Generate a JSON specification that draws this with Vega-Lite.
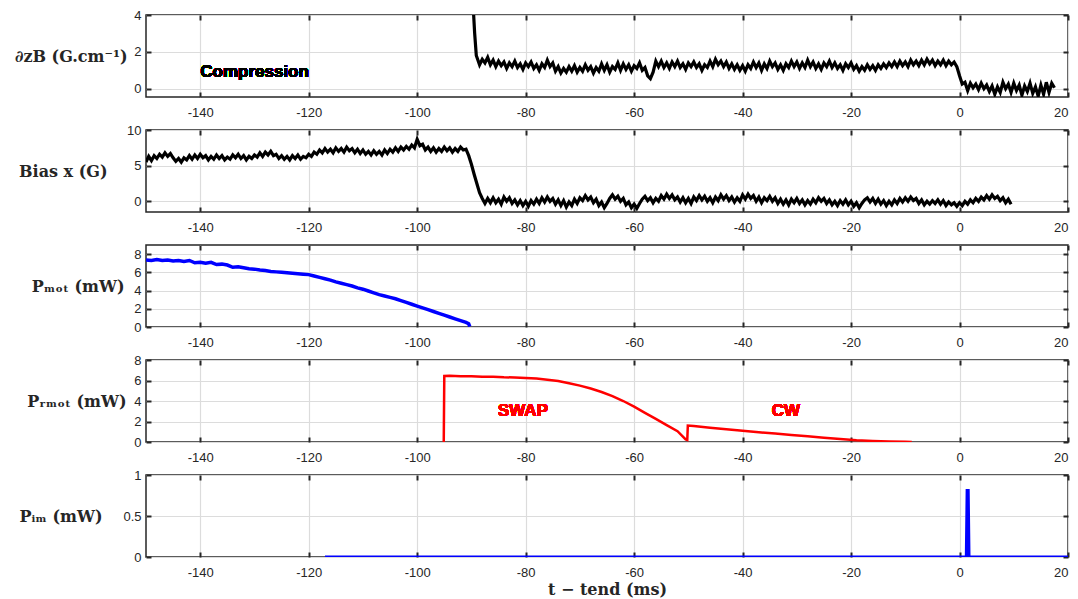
{
  "$schema": "https://vega.github.io/schema/vega-lite/v6.json",
  "background": "white",
  "padding": {"left": 13, "top": 0, "right": 5, "bottom": 0},
  "spacing": 33,
  "bounds": "flush",
  "config": {
    "view": {"stroke": "#262626", "strokeWidth": 1.5},
    "axis": {
      "labelFont": "Liberation Sans", "labelFontSize": 13, "labelColor": "#262626",
      "gridColor": "#dcdcdc", "gridWidth": 1.2, "tickColor": "#262626", "tickWidth": 2, "tickSize": -5,
      "domain": false,
      "titleFont": "DejaVu Serif", "titleFontWeight": "bold", "titleFontSize": 16, "titleColor": "#262626"
    },
    "axisX": {"labelPadding": 14},
    "axisY": {"labelPadding": 10}
  },
  "vconcat": [
    {
      "width": 922, "height": 82,
      "data": {"values": [
        {"t":-89.7,"v":4.6},{"t":-89.4,"v":3.0},{"t":-89.1,"v":1.8},{"t":-88.5,"v":1.3},{"t":-88,"v":1.6},{"t":-87.5,"v":1.4},{"t":-87,"v":1.7},{"t":-86.5,"v":1.3},{"t":-86,"v":1.55},{"t":-85.5,"v":1.2},{"t":-85,"v":1.5},{"t":-84.5,"v":1.25},{"t":-84,"v":1.45},{"t":-83.5,"v":1.1},{"t":-83,"v":1.4},{"t":-82.5,"v":1.2},{"t":-82,"v":1.5},{"t":-81.5,"v":1.15},{"t":-81,"v":1.35},{"t":-80.5,"v":1.05},{"t":-80,"v":1.4},{"t":-79.5,"v":1.2},{"t":-79,"v":1.45},{"t":-78.5,"v":1.1},{"t":-78,"v":1.3},{"t":-77.5,"v":1.0},{"t":-77,"v":1.35},{"t":-76.5,"v":1.15},{"t":-76,"v":1.55},{"t":-75.5,"v":1.2},{"t":-75,"v":1.4},{"t":-74.5,"v":0.95},{"t":-74,"v":1.2},{"t":-73.5,"v":0.85},{"t":-73,"v":1.1},{"t":-72.5,"v":0.9},{"t":-72,"v":1.2},{"t":-71.5,"v":0.95},{"t":-71,"v":1.25},{"t":-70.5,"v":0.9},{"t":-70,"v":1.15},{"t":-69.5,"v":0.95},{"t":-69,"v":1.3},{"t":-68.5,"v":1.0},{"t":-68,"v":1.2},{"t":-67.5,"v":0.85},{"t":-67,"v":1.15},{"t":-66.5,"v":0.95},{"t":-66,"v":1.35},{"t":-65.5,"v":1.0},{"t":-65,"v":1.3},{"t":-64.5,"v":0.9},{"t":-64,"v":1.2},{"t":-63.5,"v":1.05},{"t":-63,"v":1.4},{"t":-62.5,"v":1.0},{"t":-62,"v":1.35},{"t":-61.5,"v":1.05},{"t":-61,"v":1.3},{"t":-60.5,"v":0.95},{"t":-60,"v":1.25},{"t":-59.5,"v":1.1},{"t":-59,"v":1.4},{"t":-58.5,"v":1.0},{"t":-58,"v":1.15},{"t":-57.5,"v":0.7},{"t":-57,"v":0.55},{"t":-56.5,"v":0.9},{"t":-56,"v":1.5},{"t":-55.5,"v":1.2},{"t":-55,"v":1.5},{"t":-54.5,"v":1.15},{"t":-54,"v":1.4},{"t":-53.5,"v":1.1},{"t":-53,"v":1.45},{"t":-52.5,"v":1.2},{"t":-52,"v":1.5},{"t":-51.5,"v":1.15},{"t":-51,"v":1.35},{"t":-50.5,"v":1.05},{"t":-50,"v":1.4},{"t":-49.5,"v":1.2},{"t":-49,"v":1.45},{"t":-48.5,"v":1.15},{"t":-48,"v":1.35},{"t":-47.5,"v":1.0},{"t":-47,"v":1.3},{"t":-46.5,"v":1.15},{"t":-46,"v":1.5},{"t":-45.5,"v":1.2},{"t":-45,"v":1.6},{"t":-44.5,"v":1.3},{"t":-44,"v":1.5},{"t":-43.5,"v":1.2},{"t":-43,"v":1.45},{"t":-42.5,"v":1.1},{"t":-42,"v":1.35},{"t":-41.5,"v":1.05},{"t":-41,"v":1.3},{"t":-40.5,"v":1.0},{"t":-40,"v":1.25},{"t":-39.5,"v":0.95},{"t":-39,"v":1.3},{"t":-38.5,"v":1.1},{"t":-38,"v":1.45},{"t":-37.5,"v":1.15},{"t":-37,"v":1.4},{"t":-36.5,"v":1.0},{"t":-36,"v":1.35},{"t":-35.5,"v":1.1},{"t":-35,"v":1.5},{"t":-34.5,"v":1.2},{"t":-34,"v":1.4},{"t":-33.5,"v":1.05},{"t":-33,"v":1.3},{"t":-32.5,"v":1.0},{"t":-32,"v":1.35},{"t":-31.5,"v":1.15},{"t":-31,"v":1.5},{"t":-30.5,"v":1.2},{"t":-30,"v":1.45},{"t":-29.5,"v":1.1},{"t":-29,"v":1.4},{"t":-28.5,"v":1.15},{"t":-28,"v":1.55},{"t":-27.5,"v":1.2},{"t":-27,"v":1.45},{"t":-26.5,"v":1.1},{"t":-26,"v":1.35},{"t":-25.5,"v":1.05},{"t":-25,"v":1.4},{"t":-24.5,"v":1.2},{"t":-24,"v":1.5},{"t":-23.5,"v":1.15},{"t":-23,"v":1.4},{"t":-22.5,"v":1.1},{"t":-22,"v":1.3},{"t":-21.5,"v":1.0},{"t":-21,"v":1.35},{"t":-20.5,"v":1.15},{"t":-20,"v":1.4},{"t":-19.5,"v":1.05},{"t":-19,"v":1.25},{"t":-18.5,"v":0.95},{"t":-18,"v":1.2},{"t":-17.5,"v":1.0},{"t":-17,"v":1.3},{"t":-16.5,"v":1.05},{"t":-16,"v":1.25},{"t":-15.5,"v":1.0},{"t":-15,"v":1.3},{"t":-14.5,"v":1.1},{"t":-14,"v":1.35},{"t":-13.5,"v":1.15},{"t":-13,"v":1.4},{"t":-12.5,"v":1.2},{"t":-12,"v":1.45},{"t":-11.5,"v":1.2},{"t":-11,"v":1.5},{"t":-10.5,"v":1.25},{"t":-10,"v":1.45},{"t":-9.5,"v":1.2},{"t":-9,"v":1.55},{"t":-8.5,"v":1.3},{"t":-8,"v":1.5},{"t":-7.5,"v":1.25},{"t":-7,"v":1.55},{"t":-6.5,"v":1.3},{"t":-6,"v":1.6},{"t":-5.5,"v":1.35},{"t":-5,"v":1.55},{"t":-4.5,"v":1.25},{"t":-4,"v":1.5},{"t":-3.5,"v":1.3},{"t":-3,"v":1.55},{"t":-2.5,"v":1.25},{"t":-2,"v":1.5},{"t":-1.5,"v":1.3},{"t":-1,"v":1.45},{"t":-0.5,"v":1.2},{"t":0,"v":0.7},{"t":0.5,"v":0.25},{"t":1,"v":0.35},{"t":1.5,"v":-0.1},{"t":2,"v":0.3},{"t":2.5,"v":0.05},{"t":3,"v":0.25},{"t":3.5,"v":-0.05},{"t":4,"v":0.3},{"t":4.5,"v":0.0},{"t":5,"v":0.2},{"t":5.5,"v":-0.15},{"t":6,"v":0.15},{"t":6.5,"v":-0.3},{"t":7,"v":0.1},{"t":7.5,"v":-0.2},{"t":8,"v":0.35},{"t":8.5,"v":0.0},{"t":9,"v":0.25},{"t":9.5,"v":-0.2},{"t":10,"v":0.3},{"t":10.5,"v":-0.1},{"t":11,"v":0.2},{"t":11.5,"v":-0.35},{"t":12,"v":0.15},{"t":12.5,"v":-0.15},{"t":13,"v":0.3},{"t":13.5,"v":-0.25},{"t":14,"v":0.1},{"t":14.5,"v":-0.4},{"t":15,"v":0.2},{"t":15.5,"v":-0.3},{"t":16,"v":0.35},{"t":16.5,"v":-0.2},{"t":17,"v":0.3},{"t":17.5,"v":0.05}
      ]},
      "layer": [
        {
          "mark": {"type": "line", "color": "black", "strokeWidth": 3.2, "clip": true},
          "encoding": {
            "x": {"field": "t", "type": "quantitative", "scale": {"domain": [-150, 20], "nice": false},
                  "axis": {"orient": "bottom", "values": [-140,-120,-100,-80,-60,-40,-20,0,20], "title": null, "labelExpr": "replace(datum.label, '−', '-')"}},
            "y": {"field": "v", "type": "quantitative", "scale": {"domain": [-0.45, 4], "nice": false, "zero": false},
                  "axis": {"orient": "left", "values": [0,2,4], "format": "~r", "title": "∂zB (G.cm⁻¹)", "titleAngle": 0, "titleAlign": "right", "titleBaseline": "middle", "titleX": -19, "titleY": 41}}
          }
        },
        {
          "mark": {"type": "text", "font": "Liberation Sans", "fontWeight": "bold", "fontSize": 17, "color": "black", "align": "left", "baseline": "middle"},
          "encoding": {"x": {"datum": -140, "type": "quantitative", "axis": null}, "y": {"datum": 0.88, "type": "quantitative", "axis": null}, "text": {"value": "Compression"}}
        },
        {
          "mark": {"type": "point", "opacity": 0},
          "encoding": {
            "x": {"field": "t", "type": "quantitative", "axis": {"orient": "top", "values": [-140,-120,-100,-80,-60,-40,-20,0,20], "labels": false, "grid": false, "title": null}},
            "y": {"field": "v", "type": "quantitative", "axis": {"orient": "right", "values": [0,2,4], "labels": false, "grid": false, "title": null}}
          }
        }
      ],
      "resolve": {"axis": {"x": "independent", "y": "independent"}}
    },
    {
      "width": 922, "height": 82,
      "data": {"values": [
        {"t":-150,"v":5.5},{"t":-149.5,"v":6.3},{"t":-149,"v":5.7},{"t":-148.5,"v":6.4},{"t":-148,"v":6.0},{"t":-147.5,"v":6.6},{"t":-147,"v":6.2},{"t":-146.5,"v":6.8},{"t":-146,"v":6.3},{"t":-145.5,"v":6.7},{"t":-145,"v":6.1},{"t":-144.5,"v":5.6},{"t":-144,"v":6.0},{"t":-143.5,"v":5.5},{"t":-143,"v":6.1},{"t":-142.5,"v":5.8},{"t":-142,"v":6.4},{"t":-141.5,"v":5.9},{"t":-141,"v":6.5},{"t":-140.5,"v":6.0},{"t":-140,"v":6.6},{"t":-139.5,"v":6.1},{"t":-139,"v":6.4},{"t":-138.5,"v":5.8},{"t":-138,"v":6.3},{"t":-137.5,"v":5.9},{"t":-137,"v":6.5},{"t":-136.5,"v":6.0},{"t":-136,"v":6.4},{"t":-135.5,"v":5.8},{"t":-135,"v":6.2},{"t":-134.5,"v":5.9},{"t":-134,"v":6.5},{"t":-133.5,"v":6.1},{"t":-133,"v":6.6},{"t":-132.5,"v":6.0},{"t":-132,"v":6.4},{"t":-131.5,"v":5.8},{"t":-131,"v":6.3},{"t":-130.5,"v":6.0},{"t":-130,"v":6.5},{"t":-129.5,"v":6.2},{"t":-129,"v":6.8},{"t":-128.5,"v":6.3},{"t":-128,"v":6.9},{"t":-127.5,"v":6.5},{"t":-127,"v":7.0},{"t":-126.5,"v":6.4},{"t":-126,"v":6.6},{"t":-125.5,"v":6.0},{"t":-125,"v":6.4},{"t":-124.5,"v":5.9},{"t":-124,"v":6.3},{"t":-123.5,"v":5.8},{"t":-123,"v":6.4},{"t":-122.5,"v":6.0},{"t":-122,"v":6.5},{"t":-121.5,"v":5.9},{"t":-121,"v":6.3},{"t":-120.5,"v":6.1},{"t":-120,"v":6.6},{"t":-119.5,"v":6.3},{"t":-119,"v":6.9},{"t":-118.5,"v":6.6},{"t":-118,"v":7.2},{"t":-117.5,"v":6.8},{"t":-117,"v":7.4},{"t":-116.5,"v":6.9},{"t":-116,"v":7.3},{"t":-115.5,"v":6.8},{"t":-115,"v":7.5},{"t":-114.5,"v":7.0},{"t":-114,"v":7.4},{"t":-113.5,"v":6.9},{"t":-113,"v":7.6},{"t":-112.5,"v":7.1},{"t":-112,"v":7.4},{"t":-111.5,"v":6.8},{"t":-111,"v":7.3},{"t":-110.5,"v":6.7},{"t":-110,"v":7.2},{"t":-109.5,"v":6.6},{"t":-109,"v":7.0},{"t":-108.5,"v":6.5},{"t":-108,"v":7.1},{"t":-107.5,"v":6.6},{"t":-107,"v":7.0},{"t":-106.5,"v":6.5},{"t":-106,"v":7.2},{"t":-105.5,"v":6.7},{"t":-105,"v":7.3},{"t":-104.5,"v":6.9},{"t":-104,"v":7.5},{"t":-103.5,"v":7.0},{"t":-103,"v":7.6},{"t":-102.5,"v":7.2},{"t":-102,"v":7.7},{"t":-101.5,"v":7.3},{"t":-101,"v":7.9},{"t":-100.5,"v":7.5},{"t":-100,"v":8.7},{"t":-99.5,"v":7.8},{"t":-99,"v":8.0},{"t":-98.5,"v":7.2},{"t":-98,"v":7.6},{"t":-97.5,"v":7.0},{"t":-97,"v":7.5},{"t":-96.5,"v":6.9},{"t":-96,"v":7.4},{"t":-95.5,"v":7.0},{"t":-95,"v":7.6},{"t":-94.5,"v":7.1},{"t":-94,"v":7.5},{"t":-93.5,"v":6.9},{"t":-93,"v":7.4},{"t":-92.5,"v":7.0},{"t":-92,"v":7.6},{"t":-91.5,"v":7.2},{"t":-91,"v":7.3},{"t":-90.5,"v":6.4},{"t":-90,"v":5.2},{"t":-89.5,"v":3.8},{"t":-89,"v":2.5},{"t":-88.5,"v":1.2},{"t":-88,"v":0.4},{"t":-87.5,"v":-0.3},{"t":-87,"v":0.4},{"t":-86.5,"v":-0.2},{"t":-86,"v":0.5},{"t":-85.5,"v":-0.2},{"t":-85,"v":0.3},{"t":-84.5,"v":-0.4},{"t":-84,"v":0.6},{"t":-83.5,"v":0.0},{"t":-83,"v":0.5},{"t":-82.5,"v":-0.3},{"t":-82,"v":0.2},{"t":-81.5,"v":-0.5},{"t":-81,"v":0.1},{"t":-80.5,"v":-0.6},{"t":-80,"v":0.0},{"t":-79.5,"v":-0.7},{"t":-79,"v":0.1},{"t":-78.5,"v":-0.4},{"t":-78,"v":0.3},{"t":-77.5,"v":-0.3},{"t":-77,"v":0.5},{"t":-76.5,"v":-0.1},{"t":-76,"v":0.6},{"t":-75.5,"v":0.0},{"t":-75,"v":0.4},{"t":-74.5,"v":-0.4},{"t":-74,"v":0.2},{"t":-73.5,"v":-0.6},{"t":-73,"v":0.1},{"t":-72.5,"v":-0.8},{"t":-72,"v":-0.1},{"t":-71.5,"v":-0.6},{"t":-71,"v":0.3},{"t":-70.5,"v":-0.3},{"t":-70,"v":0.5},{"t":-69.5,"v":0.1},{"t":-69,"v":0.8},{"t":-68.5,"v":0.2},{"t":-68,"v":0.6},{"t":-67.5,"v":-0.2},{"t":-67,"v":0.3},{"t":-66.5,"v":-0.6},{"t":-66,"v":-0.1},{"t":-65.5,"v":-0.9},{"t":-65,"v":-0.3},{"t":-64.5,"v":0.4},{"t":-64,"v":0.9},{"t":-63.5,"v":0.3},{"t":-63,"v":0.7},{"t":-62.5,"v":0.0},{"t":-62,"v":0.4},{"t":-61.5,"v":-0.5},{"t":-61,"v":-0.1},{"t":-60.5,"v":-0.9},{"t":-60,"v":-0.4},{"t":-59.5,"v":-1.0},{"t":-59,"v":-0.3},{"t":-58.5,"v":0.3},{"t":-58,"v":0.7},{"t":-57.5,"v":0.1},{"t":-57,"v":0.5},{"t":-56.5,"v":-0.2},{"t":-56,"v":0.4},{"t":-55.5,"v":0.0},{"t":-55,"v":0.8},{"t":-54.5,"v":0.3},{"t":-54,"v":1.0},{"t":-53.5,"v":0.4},{"t":-53,"v":0.9},{"t":-52.5,"v":0.2},{"t":-52,"v":0.6},{"t":-51.5,"v":-0.1},{"t":-51,"v":0.5},{"t":-50.5,"v":-0.2},{"t":-50,"v":0.4},{"t":-49.5,"v":-0.3},{"t":-49,"v":0.6},{"t":-48.5,"v":0.1},{"t":-48,"v":0.8},{"t":-47.5,"v":0.2},{"t":-47,"v":0.7},{"t":-46.5,"v":0.0},{"t":-46,"v":0.5},{"t":-45.5,"v":-0.2},{"t":-45,"v":0.6},{"t":-44.5,"v":0.1},{"t":-44,"v":0.9},{"t":-43.5,"v":0.3},{"t":-43,"v":0.8},{"t":-42.5,"v":0.1},{"t":-42,"v":0.6},{"t":-41.5,"v":-0.1},{"t":-41,"v":0.5},{"t":-40.5,"v":0.0},{"t":-40,"v":0.9},{"t":-39.5,"v":0.3},{"t":-39,"v":1.0},{"t":-38.5,"v":0.4},{"t":-38,"v":0.8},{"t":-37.5,"v":0.0},{"t":-37,"v":0.6},{"t":-36.5,"v":-0.2},{"t":-36,"v":0.5},{"t":-35.5,"v":0.1},{"t":-35,"v":0.7},{"t":-34.5,"v":0.0},{"t":-34,"v":0.5},{"t":-33.5,"v":-0.3},{"t":-33,"v":0.3},{"t":-32.5,"v":-0.4},{"t":-32,"v":0.2},{"t":-31.5,"v":-0.5},{"t":-31,"v":0.3},{"t":-30.5,"v":-0.2},{"t":-30,"v":0.4},{"t":-29.5,"v":-0.3},{"t":-29,"v":0.2},{"t":-28.5,"v":-0.5},{"t":-28,"v":0.1},{"t":-27.5,"v":-0.4},{"t":-27,"v":0.3},{"t":-26.5,"v":-0.2},{"t":-26,"v":0.5},{"t":-25.5,"v":0.0},{"t":-25,"v":0.4},{"t":-24.5,"v":-0.3},{"t":-24,"v":0.2},{"t":-23.5,"v":-0.5},{"t":-23,"v":0.0},{"t":-22.5,"v":-0.6},{"t":-22,"v":0.1},{"t":-21.5,"v":-0.4},{"t":-21,"v":0.2},{"t":-20.5,"v":-0.5},{"t":-20,"v":0.0},{"t":-19.5,"v":-0.7},{"t":-19,"v":-0.2},{"t":-18.5,"v":-0.9},{"t":-18,"v":-0.3},{"t":-17.5,"v":0.2},{"t":-17,"v":0.5},{"t":-16.5,"v":-0.1},{"t":-16,"v":0.4},{"t":-15.5,"v":-0.3},{"t":-15,"v":0.3},{"t":-14.5,"v":-0.4},{"t":-14,"v":0.1},{"t":-13.5,"v":-0.6},{"t":-13,"v":0.0},{"t":-12.5,"v":-0.5},{"t":-12,"v":0.2},{"t":-11.5,"v":-0.3},{"t":-11,"v":0.4},{"t":-10.5,"v":-0.1},{"t":-10,"v":0.5},{"t":-9.5,"v":0.0},{"t":-9,"v":0.6},{"t":-8.5,"v":0.1},{"t":-8,"v":0.4},{"t":-7.5,"v":-0.3},{"t":-7,"v":0.2},{"t":-6.5,"v":-0.5},{"t":-6,"v":0.0},{"t":-5.5,"v":-0.4},{"t":-5,"v":0.1},{"t":-4.5,"v":-0.3},{"t":-4,"v":0.2},{"t":-3.5,"v":-0.4},{"t":-3,"v":0.1},{"t":-2.5,"v":-0.6},{"t":-2,"v":-0.1},{"t":-1.5,"v":-0.5},{"t":-1,"v":-0.2},{"t":-0.5,"v":-0.7},{"t":0,"v":-0.2},{"t":0.5,"v":-0.6},{"t":1,"v":0.0},{"t":1.5,"v":-0.4},{"t":2,"v":0.2},{"t":2.5,"v":-0.2},{"t":3,"v":0.4},{"t":3.5,"v":0.0},{"t":4,"v":0.6},{"t":4.5,"v":0.2},{"t":5,"v":0.8},{"t":5.5,"v":0.3},{"t":6,"v":0.9},{"t":6.5,"v":0.4},{"t":7,"v":0.7},{"t":7.5,"v":0.1},{"t":8,"v":0.5},{"t":8.5,"v":-0.2},{"t":9,"v":0.3},{"t":9.5,"v":-0.4}
      ]},
      "layer": [
        {
          "mark": {"type": "line", "color": "black", "strokeWidth": 3.2, "clip": true},
          "encoding": {
            "x": {"field": "t", "type": "quantitative", "scale": {"domain": [-150, 20], "nice": false},
                  "axis": {"orient": "bottom", "values": [-140,-120,-100,-80,-60,-40,-20,0,20], "title": null, "labelExpr": "replace(datum.label, '−', '-')"}},
            "y": {"field": "v", "type": "quantitative", "scale": {"domain": [-1.5, 10], "nice": false, "zero": false},
                  "axis": {"orient": "left", "values": [0,5,10], "format": "~r", "title": "Bias x (G)", "titleAngle": 0, "titleAlign": "right", "titleBaseline": "middle", "titleX": -39, "titleY": 41}}
          }
        },
        {
          "mark": {"type": "point", "opacity": 0},
          "encoding": {
            "x": {"field": "t", "type": "quantitative", "axis": {"orient": "top", "values": [-140,-120,-100,-80,-60,-40,-20,0,20], "labels": false, "grid": false, "title": null}},
            "y": {"field": "v", "type": "quantitative", "axis": {"orient": "right", "values": [0,5,10], "labels": false, "grid": false, "title": null}}
          }
        }
      ],
      "resolve": {"axis": {"x": "independent", "y": "independent"}}
    },
    {
      "width": 922, "height": 82,
      "data": {"values": [
        {"t":-150,"v":7.35},{"t":-149,"v":7.3},{"t":-148,"v":7.4},{"t":-147,"v":7.3},{"t":-146,"v":7.35},{"t":-145,"v":7.25},{"t":-144,"v":7.3},{"t":-143,"v":7.2},{"t":-142,"v":7.3},{"t":-141,"v":7.05},{"t":-140,"v":7.1},{"t":-139,"v":7.0},{"t":-138,"v":7.1},{"t":-137,"v":6.85},{"t":-136,"v":6.9},{"t":-135,"v":6.8},{"t":-134,"v":6.55},{"t":-133,"v":6.6},{"t":-132,"v":6.5},{"t":-131,"v":6.4},{"t":-130,"v":6.35},{"t":-129,"v":6.25},{"t":-128,"v":6.2},{"t":-127,"v":6.1},{"t":-126,"v":6.05},{"t":-125,"v":6.0},{"t":-124,"v":5.95},{"t":-123,"v":5.9},{"t":-122,"v":5.85},{"t":-121,"v":5.8},{"t":-120,"v":5.75},{"t":-119,"v":5.6},{"t":-118,"v":5.45},{"t":-117,"v":5.3},{"t":-116,"v":5.15},{"t":-115,"v":4.95},{"t":-114,"v":4.8},{"t":-113,"v":4.65},{"t":-112,"v":4.5},{"t":-111,"v":4.3},{"t":-110,"v":4.15},{"t":-109,"v":3.95},{"t":-108,"v":3.75},{"t":-107,"v":3.55},{"t":-106,"v":3.4},{"t":-105,"v":3.25},{"t":-104,"v":3.1},{"t":-103,"v":2.9},{"t":-102,"v":2.7},{"t":-101,"v":2.5},{"t":-100,"v":2.3},{"t":-99,"v":2.1},{"t":-98,"v":1.9},{"t":-97,"v":1.7},{"t":-96,"v":1.5},{"t":-95,"v":1.3},{"t":-94,"v":1.1},{"t":-93,"v":0.9},{"t":-92,"v":0.7},{"t":-91,"v":0.5},{"t":-90.5,"v":0.35},{"t":-90.3,"v":0.05}
      ]},
      "layer": [
        {
          "mark": {"type": "line", "color": "#0000ff", "strokeWidth": 3.5, "clip": true},
          "encoding": {
            "x": {"field": "t", "type": "quantitative", "scale": {"domain": [-150, 20], "nice": false},
                  "axis": {"orient": "bottom", "values": [-140,-120,-100,-80,-60,-40,-20,0,20], "title": null, "labelExpr": "replace(datum.label, '−', '-')"}},
            "y": {"field": "v", "type": "quantitative", "scale": {"domain": [0, 9], "nice": false, "zero": false},
                  "axis": {"orient": "left", "values": [0,2,4,6,8], "format": "~r", "title": "Pₘₒₜ (mW)", "titleAngle": 0, "titleAlign": "right", "titleBaseline": "middle", "titleX": -22, "titleY": 41}}
          }
        },
        {
          "mark": {"type": "point", "opacity": 0},
          "encoding": {
            "x": {"field": "t", "type": "quantitative", "axis": {"orient": "top", "values": [-140,-120,-100,-80,-60,-40,-20,0,20], "labels": false, "grid": false, "title": null}},
            "y": {"field": "v", "type": "quantitative", "axis": {"orient": "right", "values": [0,2,4,6,8], "labels": false, "grid": false, "title": null}}
          }
        }
      ],
      "resolve": {"axis": {"x": "independent", "y": "independent"}}
    },
    {
      "width": 922, "height": 82,
      "data": {"values": [
        {"t":-95.1,"v":0},{"t":-95,"v":6.45},{"t":-94,"v":6.47},{"t":-92,"v":6.42},{"t":-90,"v":6.42},{"t":-88,"v":6.37},{"t":-86,"v":6.36},{"t":-84,"v":6.31},{"t":-82,"v":6.3},{"t":-80,"v":6.25},{"t":-78,"v":6.2},{"t":-76,"v":6.08},{"t":-74,"v":5.95},{"t":-72,"v":5.73},{"t":-70,"v":5.5},{"t":-68,"v":5.22},{"t":-66,"v":4.88},{"t":-64,"v":4.48},{"t":-62,"v":4.0},{"t":-60,"v":3.45},{"t":-58,"v":2.85},{"t":-56,"v":2.25},{"t":-54,"v":1.65},{"t":-52,"v":1.05},{"t":-50.5,"v":0.25},{"t":-50.2,"v":0.2},{"t":-50.1,"v":1.6},{"t":-49,"v":1.55},{"t":-46,"v":1.4},{"t":-43,"v":1.25},{"t":-40,"v":1.1},{"t":-37,"v":0.95},{"t":-34,"v":0.82},{"t":-31,"v":0.68},{"t":-28,"v":0.55},{"t":-25,"v":0.42},{"t":-22,"v":0.3},{"t":-19,"v":0.18},{"t":-16,"v":0.1},{"t":-13,"v":0.05},{"t":-10,"v":0.02},{"t":-8.8,"v":0.0}
      ]},
      "layer": [
        {
          "mark": {"type": "line", "color": "#ff0000", "strokeWidth": 2.5, "clip": true},
          "encoding": {
            "x": {"field": "t", "type": "quantitative", "scale": {"domain": [-150, 20], "nice": false},
                  "axis": {"orient": "bottom", "values": [-140,-120,-100,-80,-60,-40,-20,0,20], "title": null, "labelExpr": "replace(datum.label, '−', '-')"}},
            "y": {"field": "v", "type": "quantitative", "scale": {"domain": [0, 8], "nice": false, "zero": false},
                  "axis": {"orient": "left", "values": [0,2,4,6,8], "format": "~r", "title": "Pᵣₘₒₜ (mW)", "titleAngle": 0, "titleAlign": "right", "titleBaseline": "middle", "titleX": -20, "titleY": 41}}
          }
        },
        {
          "mark": {"type": "text", "font": "Liberation Sans", "fontWeight": "bold", "fontSize": 17, "color": "#ff0000", "align": "center", "baseline": "middle"},
          "encoding": {"x": {"datum": -80.5, "type": "quantitative", "axis": null}, "y": {"datum": 3.0, "type": "quantitative", "axis": null}, "text": {"value": "SWAP"}}
        },
        {
          "mark": {"type": "text", "font": "Liberation Sans", "fontWeight": "bold", "fontSize": 17, "color": "#ff0000", "align": "center", "baseline": "middle"},
          "encoding": {"x": {"datum": -32, "type": "quantitative", "axis": null}, "y": {"datum": 3.0, "type": "quantitative", "axis": null}, "text": {"value": "CW"}}
        },
        {
          "mark": {"type": "point", "opacity": 0},
          "encoding": {
            "x": {"field": "t", "type": "quantitative", "axis": {"orient": "top", "values": [-140,-120,-100,-80,-60,-40,-20,0,20], "labels": false, "grid": false, "title": null}},
            "y": {"field": "v", "type": "quantitative", "axis": {"orient": "right", "values": [0,2,4,6,8], "labels": false, "grid": false, "title": null}}
          }
        }
      ],
      "resolve": {"axis": {"x": "independent", "y": "independent"}}
    },
    {
      "width": 922, "height": 82,
      "data": {"values": [
        {"t":-117,"v":0},{"t":1.25,"v":0},{"t":1.4,"v":0.81},{"t":1.6,"v":0.81},{"t":1.75,"v":0},{"t":20,"v":0}
      ]},
      "layer": [
        {
          "mark": {"type": "line", "color": "#0000ff", "strokeWidth": 3, "clip": true},
          "encoding": {
            "x": {"field": "t", "type": "quantitative", "scale": {"domain": [-150, 20], "nice": false},
                  "axis": {"orient": "bottom", "values": [-140,-120,-100,-80,-60,-40,-20,0,20], "title": "t − tend (ms)", "titlePadding": 2, "labelExpr": "replace(datum.label, '−', '-')"}},
            "y": {"field": "v", "type": "quantitative", "scale": {"domain": [0, 1], "nice": false, "zero": false},
                  "axis": {"orient": "left", "values": [0,0.5,1], "format": "~r", "title": "Pᵢₘ (mW)", "titleAngle": 0, "titleAlign": "right", "titleBaseline": "middle", "titleX": -44, "titleY": 41}}
          }
        },
        {
          "mark": {"type": "point", "opacity": 0},
          "encoding": {
            "x": {"field": "t", "type": "quantitative", "axis": {"orient": "top", "values": [-140,-120,-100,-80,-60,-40,-20,0,20], "labels": false, "grid": false, "title": null}},
            "y": {"field": "v", "type": "quantitative", "axis": {"orient": "right", "values": [0,0.5,1], "labels": false, "grid": false, "title": null}}
          }
        }
      ],
      "resolve": {"axis": {"x": "independent", "y": "independent"}}
    }
  ]
}
